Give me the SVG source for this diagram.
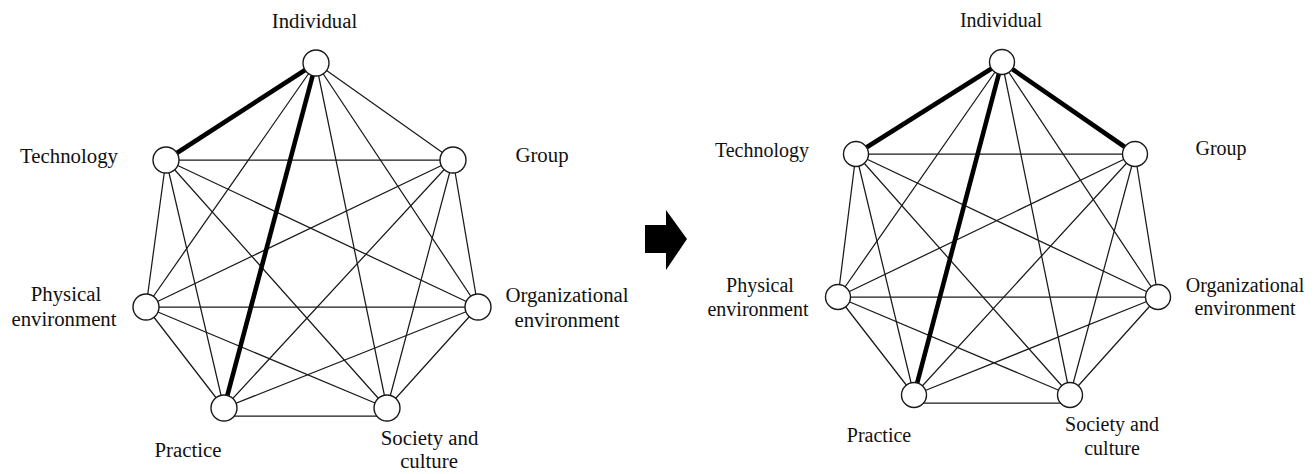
<svg xmlns="http://www.w3.org/2000/svg" width="1314" height="474" viewBox="0 0 1314 474">
<style>
.bg{fill:#fff}
.e{stroke:#1a1a1a;stroke-width:1.25;fill:none;stroke-linecap:round}
.t{stroke:#000;stroke-width:4.6;fill:none;stroke-linecap:butt}
.n{fill:#fff;stroke:#1a1a1a;stroke-width:1.4}
.l{font-family:"Liberation Serif","Times New Roman",serif;font-size:20.8px;fill:#111;text-anchor:middle}
.r{font-size:20px}
</style>
<rect class="bg" x="0" y="0" width="1314" height="474"/>
<g id="connectors-left">
<line class="e" x1="316" y1="63" x2="453" y2="160"/>
<line class="e" x1="316" y1="63" x2="146" y2="307"/>
<line class="e" x1="316" y1="63" x2="478" y2="307"/>
<line class="e" x1="316" y1="63" x2="387" y2="408"/>
<line class="e" x1="166" y1="160" x2="453" y2="160"/>
<line class="e" x1="166" y1="160" x2="146" y2="307"/>
<line class="e" x1="166" y1="160" x2="478" y2="307"/>
<line class="e" x1="166" y1="160" x2="224" y2="408"/>
<line class="e" x1="166" y1="160" x2="387" y2="408"/>
<line class="e" x1="453" y1="160" x2="146" y2="307"/>
<line class="e" x1="453" y1="160" x2="478" y2="307"/>
<line class="e" x1="453" y1="160" x2="224" y2="408"/>
<line class="e" x1="453" y1="160" x2="387" y2="408"/>
<line class="e" x1="146" y1="307" x2="478" y2="307"/>
<line class="e" x1="146" y1="307" x2="224" y2="408"/>
<line class="e" x1="146" y1="307" x2="387" y2="408"/>
<line class="e" x1="478" y1="307" x2="224" y2="408"/>
<line class="e" x1="478" y1="307" x2="387" y2="408"/>
<line class="e" x1="224" y1="416" x2="387" y2="416"/>
<line class="t" x1="316" y1="63" x2="166" y2="160"/>
<line class="t" x1="316" y1="63" x2="224" y2="408"/>
</g>
<g id="connectors-right">
<line class="e" x1="1002" y1="62" x2="838" y2="297"/>
<line class="e" x1="1002" y1="62" x2="1158" y2="297"/>
<line class="e" x1="1002" y1="62" x2="1070" y2="395"/>
<line class="e" x1="856" y1="154" x2="1135" y2="154"/>
<line class="e" x1="856" y1="154" x2="838" y2="297"/>
<line class="e" x1="856" y1="154" x2="1158" y2="297"/>
<line class="e" x1="856" y1="154" x2="914" y2="395"/>
<line class="e" x1="856" y1="154" x2="1070" y2="395"/>
<line class="e" x1="1135" y1="154" x2="838" y2="297"/>
<line class="e" x1="1135" y1="154" x2="1158" y2="297"/>
<line class="e" x1="1135" y1="154" x2="914" y2="395"/>
<line class="e" x1="1135" y1="154" x2="1070" y2="395"/>
<line class="e" x1="838" y1="297" x2="1158" y2="297"/>
<line class="e" x1="838" y1="297" x2="914" y2="395"/>
<line class="e" x1="838" y1="297" x2="1070" y2="395"/>
<line class="e" x1="1158" y1="297" x2="914" y2="395"/>
<line class="e" x1="1158" y1="297" x2="1070" y2="395"/>
<line class="e" x1="914" y1="403" x2="1070" y2="403"/>
<line class="t" x1="1002" y1="62" x2="856" y2="154"/>
<line class="t" x1="1002" y1="62" x2="1135" y2="154"/>
<line class="t" x1="1002" y1="62" x2="914" y2="395"/>
</g>
<g id="L-individual"><circle class="n" cx="316" cy="63" r="13"/><text class="l" x="314.5" y="28">Individual</text></g>
<g id="L-technology"><circle class="n" cx="166" cy="160" r="13"/><text class="l" x="69" y="163">Technology</text></g>
<g id="L-group"><circle class="n" cx="453" cy="160" r="13"/><text class="l" x="542" y="162">Group</text></g>
<g id="L-physical"><circle class="n" cx="146" cy="307" r="13"/><text class="l" x="66" y="301">Physical</text><text class="l" x="64" y="326">environment</text></g>
<g id="L-organizational"><circle class="n" cx="478" cy="307" r="13"/><text class="l" x="567" y="302">Organizational</text><text class="l" x="567" y="327">environment</text></g>
<g id="L-practice"><circle class="n" cx="224" cy="408" r="13"/><text class="l" x="188" y="457">Practice</text></g>
<g id="L-society"><circle class="n" cx="387" cy="408" r="13"/><text class="l" x="429.5" y="445">Society and</text><text class="l" x="429" y="468">culture</text></g>
<g id="arrow"><path d="M645 225 H666 V210 L687 239 L666 270 V253 H645 Z" fill="#000"/></g>
<g id="R-individual"><circle class="n" cx="1002" cy="62" r="12.5"/><text class="l r" x="1001" y="27">Individual</text></g>
<g id="R-technology"><circle class="n" cx="856" cy="154" r="12.5"/><text class="l r" x="762" y="157">Technology</text></g>
<g id="R-group"><circle class="n" cx="1135" cy="154" r="12.5"/><text class="l r" x="1221" y="155">Group</text></g>
<g id="R-physical"><circle class="n" cx="838" cy="297" r="12.5"/><text class="l r" x="760" y="292">Physical</text><text class="l r" x="758" y="316">environment</text></g>
<g id="R-organizational"><circle class="n" cx="1158" cy="297" r="12.5"/><text class="l r" x="1245" y="292">Organizational</text><text class="l r" x="1245" y="315">environment</text></g>
<g id="R-practice"><circle class="n" cx="914" cy="395" r="12.5"/><text class="l r" x="879" y="442">Practice</text></g>
<g id="R-society"><circle class="n" cx="1070" cy="395" r="12.5"/><text class="l r" x="1112" y="431">Society and</text><text class="l r" x="1112" y="455">culture</text></g>
</svg>
